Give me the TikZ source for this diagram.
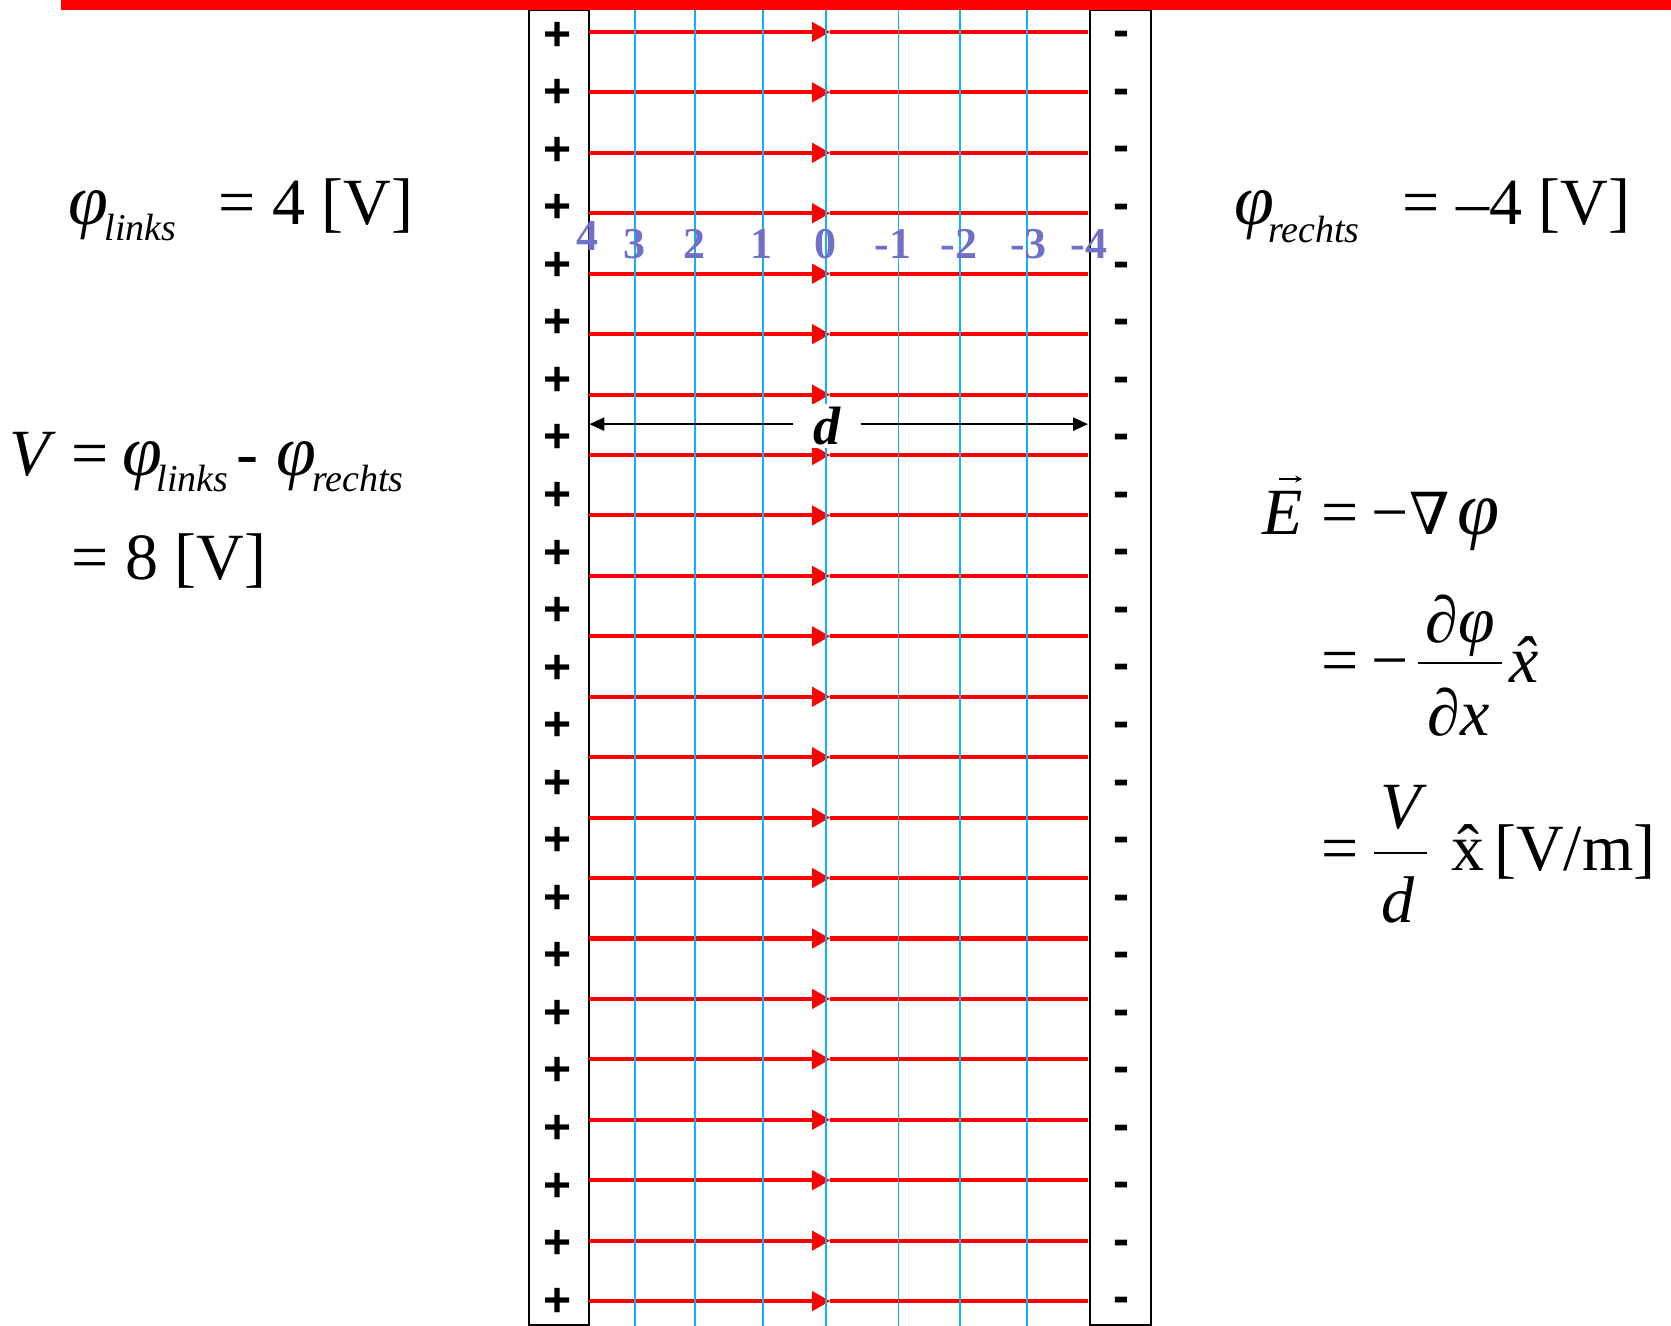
\documentclass[tikz,border=0pt]{standalone}
\usepackage{fontspec}
\setmainfont{Liberation Serif}
\newfontfamily\chargefont{Liberation Sans}
\newfontfamily\dejaserif{DejaVu Serif}
\usetikzlibrary{arrows.meta}
\definecolor{eqblue}{RGB}{20,176,240}
\definecolor{numblue}{RGB}{112,112,200}
\newcommand\fs[1]{\fontsize{#1}{#1}\selectfont}
\newcommand\hatx[1]{\ooalign{#1\cr\hidewidth ˆ\hidewidth\cr}}
\begin{document}
\begin{tikzpicture}[x=0.5328pt,y=-0.5328pt,
  every node/.style={inner sep=0pt,outer sep=0pt},
  plate/.style={draw=black,line width=1pt},
  potline/.style={draw=eqblue,line width=0.85pt},
  fieldline/.style={draw=red,line width=2pt},
  fieldtip/.style={-{Triangle[length=9pt,width=9.5pt]}},
  plus/.style={font=\chargefont\bfseries\fs{24},anchor=base},
  numlabel/.style={font=\bfseries\fs{22},text=numblue,anchor=base},
  eq/.style={font=\fs{33},anchor=base west},
  eqit/.style={font=\itshape\fs{33},anchor=base west},
  phi/.style={font=\itshape\fs{36},anchor=base west},
  sub/.style={font=\itshape\fs{19},anchor=base west},
  dim/.style={draw=black,line width=1.1pt,-{Triangle[length=7.5pt,width=6.5pt]}},
  fracbar/.style={draw=black,line width=1pt}]
\useasboundingbox (0,0) rectangle (1568,1244);

% plates
\draw[plate] (496,9) rectangle (553,1243);
\draw[plate] (1023,9) rectangle (1080,1243);

% field lines
\foreach \k in {0,...,21}{
  \pgfmathsetmacro\yy{30+56.71*\k}
  \coordinate (fa\k) at (553,\yy);
  \coordinate (fm\k) at (779,\yy);
  \coordinate (fb\k) at (1021,\yy);
  \draw[fieldline,fieldtip] (fa\k) -- (fm\k);
  \draw[fieldline] (fm\k) -- (fb\k);
}

% equipotential lines
\foreach \xx [count=\i] in {596,652,716,775,843,901,964}{
  \coordinate (pt\i) at (\xx,9);
  \coordinate (pb\i) at (\xx,1244);
  \draw[potline] (pt\i) -- (pb\i);
}

% charges
\foreach \k in {0,...,22}{
  \pgfmathsetmacro\yy{32+54*\k}
  \node[plus] (p\k) at (523.5,\yy+15) {+};
  \node[plus] (m\k) at (1052,\yy+12) {-};
}

% potential values
\node[numlabel] (n4) at (551,235) {4};
\node[numlabel] (n3) at (595,243) {3};
\node[numlabel] (n2) at (652,243) {2};
\node[numlabel] (n1) at (715,243) {1};
\node[numlabel] (n0) at (775,243) {0};
\node[numlabel] (nm1) at (838,243) {-1};
\node[numlabel] (nm2) at (900,243) {-2};
\node[numlabel] (nm3) at (965,243) {-3};
\node[numlabel] (nm4) at (1022,243) {-4};

% distance d
\node[font=\bfseries\itshape\fs{27},fill=white,minimum width=33.6pt,minimum height=22pt] (dlab) at (776,400) {d};
\coordinate (dl) at (553,398);
\coordinate (dr) at (1021,398);
\draw[dim] (dlab.west |- dl) -- (dl);
\draw[dim] (dlab.east |- dr) -- (dr);

% top bar
\fill[red] (57,0) rectangle (1568,9.5);

% left formulas
\node[phi] (phL) at (64,211) {φ};
\node[sub] (phLs) at (98,226) {links};
\node[eq] (phLv) at (205,211) {= 4 [V]};

\node[eqit] (V1) at (9,446) {V};
\node[eq] (eq1) at (67,446) {=};
\node[phi] (ph2) at (115,446) {φ};
\node[sub] (ph2s) at (147,461) {links};
\node[eq] (mi1) at (222,446) {-};
\node[phi] (ph3) at (259,446) {φ};
\node[sub] (ph3s) at (293,461) {rechts};
\node[eq] (eq2) at (67,544) {= 8 [V]};

% right formulas
\node[phi] (phR) at (1158,211) {φ};
\node[sub] (phRs) at (1190,228) {rechts};
\node[eq] (phRv) at (1316,211) {= –4 [V]};

\node[eqit] (E) at (1185,502) {E};
\draw[line width=0.6pt,-{Stealth[length=3.5pt,width=3.5pt]}] ([shift={(15,-12)}]E.north west) -- ([shift={(37,-12)}]E.north west);
\node[eq] (eq3) at (1240,502) {=};
\node[eq] (mn3) at (1287,502) {−};
\node[font=\dejaserif\fs{29},anchor=base west] (nab) at (1323,502) {∇};
\node[phi,font=\itshape\fs{38}] (ph4) at (1368,502) {φ};

\node[eq] (eq4) at (1240,640) {=};
\node[eq] (mn4) at (1287,640) {−};
\coordinate (fr1a) at (1331,622);
\coordinate (fr1b) at (1409,622);
\draw[fracbar] (fr1a) -- (fr1b);
\node[eqit,anchor=base] (num1) at (1370,603) {∂φ};
\node[eqit,anchor=base] (den1) at (1369,690) {∂x};
\node[eqit] (xh1) at (1416,640) {\hatx{x}};

\node[eq] (eq5) at (1240,817) {=};
\coordinate (fr2a) at (1289,800);
\coordinate (fr2b) at (1339,800);
\draw[fracbar] (fr2a) -- (fr2b);
\node[eqit,anchor=base] (num2) at (1314,777) {V};
\node[eqit,anchor=base] (den2) at (1312,866) {d};
\node[eq] (xh2) at (1362,817) {\hatx{x}};
\node[eq] (unit) at (1402,817) {[V/m]};
\end{tikzpicture}
\end{document}
